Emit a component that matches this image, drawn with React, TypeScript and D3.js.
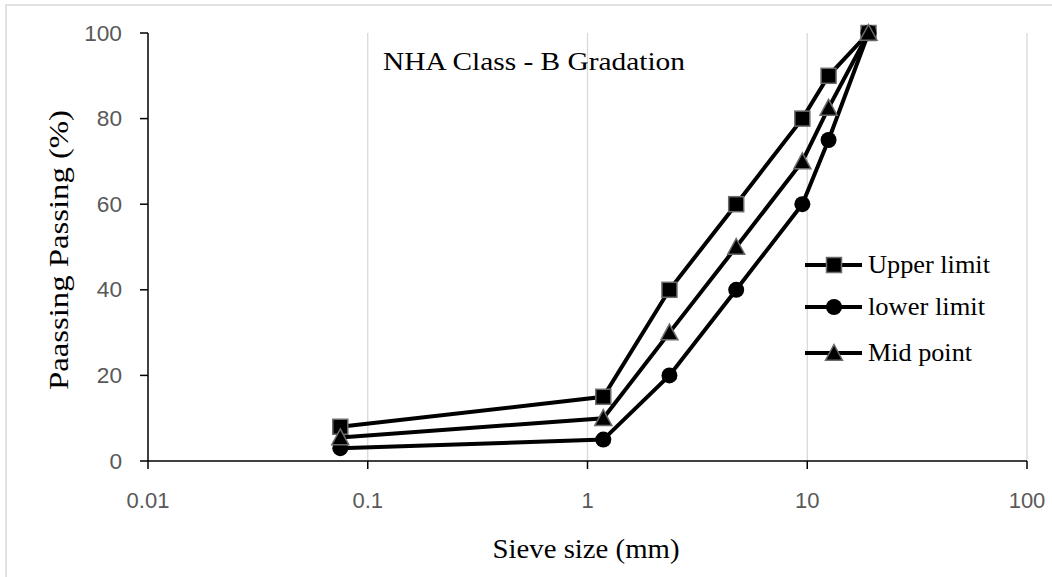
import React from "react";
import * as d3 from "d3";

const sieveSizes = [0.075, 1.18, 2.36, 4.75, 9.5, 12.5, 19];
const upperLimit = [8, 15, 40, 60, 80, 90, 100];
const lowerLimit = [3, 5, 20, 40, 60, 75, 100];
const midPoint = [5.5, 10, 30, 50, 70, 82.5, 100];
const xTicks = [0.01, 0.1, 1, 10, 100];
const xTickLabels = ["0.01", "0.1", "1", "10", "100"];
const yTicks = [0, 20, 40, 60, 80, 100];
const seriesNames = ["Upper limit", "lower limit", "Mid point"];
const seriesShapes = ["square", "circle", "triangle"];

const W = 1052;
const H = 577;
const M = { left: 148, right: 1027, top: 33, bottom: 461 };

function Marker({ shape, x, y }: { shape: string; x: number; y: number }) {
  if (shape === "square") {
    return <rect x={x - 7.5} y={y - 7.5} width={15} height={15} fill="#000" stroke="#6b6b6b" strokeWidth={1.5} />;
  }
  if (shape === "circle") {
    return <circle cx={x} cy={y} r={8} fill="#000" />;
  }
  const s = 8.5;
  return (
    <path
      d={`M${x},${y - s}L${x + s},${y + s * 0.85}L${x - s},${y + s * 0.85}Z`}
      fill="#000"
      stroke="#6b6b6b"
      strokeWidth={1.5}
    />
  );
}

export default function App() {
  const x = d3.scaleLog().domain([0.01, 100]).range([M.left, M.right]);
  const y = d3.scaleLinear().domain([0, 100]).range([M.bottom, M.top]);
  const line = d3
    .line<[number, number]>()
    .x((d) => x(d[0]))
    .y((d) => y(d[1]));
  const series = [upperLimit, lowerLimit, midPoint];
  const legendY = [265, 307, 353];

  return (
    <svg width={W} height={H} style={{ position: "absolute", left: 0, top: 0 }}>
      <rect x={0} y={0} width={W} height={H} fill="#fff" />
      <rect x={6} y={5} width={W + 10} height={H + 10} fill="none" stroke="#d9d9d9" strokeWidth={1.5} />
      {xTicks.slice(1).map((t) => (
        <line key={t} x1={x(t)} x2={x(t)} y1={M.top} y2={M.bottom} stroke="#d9d9d9" strokeWidth={1.3} />
      ))}
      <line x1={M.left} x2={M.left} y1={M.top} y2={M.bottom} stroke="#000" strokeWidth={1.5} />
      <line x1={M.left} x2={M.right} y1={M.bottom} y2={M.bottom} stroke="#000" strokeWidth={1.5} />
      {yTicks.map((t) => (
        <g key={t}>
          <line x1={M.left - 8} x2={M.left} y1={y(t)} y2={y(t)} stroke="#000" strokeWidth={1.5} />
          <text
            x={122}
            y={y(t)}
            dy="0.35em"
            textAnchor="end"
            fontFamily="Liberation Sans, Arial, sans-serif"
            fontSize={22}
            fill="#595959"
            transform={`translate(122,0) scale(1.03,1) translate(-122,0)`}
          >
            {t}
          </text>
        </g>
      ))}
      {xTicks.map((t, i) => (
        <g key={t}>
          <line x1={x(t)} x2={x(t)} y1={M.bottom} y2={M.bottom + 8} stroke="#000" strokeWidth={1.5} />
          <text
            x={x(t)}
            y={500}
            dy="0.35em"
            textAnchor="middle"
            fontFamily="Liberation Sans, Arial, sans-serif"
            fontSize={22}
            fill="#595959"
          >
            {xTickLabels[i]}
          </text>
        </g>
      ))}
      {series.map((vals, si) => {
        const pts: [number, number][] = sieveSizes.map((s, i) => [s, vals[i]]);
        return (
          <g key={si}>
            <path d={line(pts) || ""} fill="none" stroke="#000" strokeWidth={4} />
            {pts.map((p, i) => (
              <Marker key={i} shape={seriesShapes[si]} x={x(p[0])} y={y(p[1])} />
            ))}
          </g>
        );
      })}
      <text
        x={534}
        y={70}
        textAnchor="middle"
        fontFamily="Liberation Serif, Times New Roman, serif"
        fontSize={25}
        fill="#000"
        textLength={302}
        lengthAdjust="spacingAndGlyphs"
      >
        NHA Class - B Gradation
      </text>
      {seriesNames.map((n, i) => (
        <g key={n}>
          <line x1={805} x2={862} y1={legendY[i]} y2={legendY[i]} stroke="#000" strokeWidth={4} />
          <Marker shape={seriesShapes[i]} x={834} y={legendY[i]} />
          <text
            x={868}
            y={legendY[i]}
            dy="0.33em"
            fontFamily="Liberation Serif, Times New Roman, serif"
            fontSize={25}
            fill="#000"
            textLength={[122, 117, 104][i]}
            lengthAdjust="spacingAndGlyphs"
          >
            {n}
          </text>
        </g>
      ))}
      <text
        x={586}
        y={558}
        textAnchor="middle"
        fontFamily="Liberation Serif, Times New Roman, serif"
        fontSize={27}
        fill="#000"
        textLength={187}
        lengthAdjust="spacingAndGlyphs"
      >
        Sieve size (mm)
      </text>
      <text
        transform={`translate(68,250) rotate(-90)`}
        textAnchor="middle"
        fontFamily="Liberation Serif, Times New Roman, serif"
        fontSize={27}
        fill="#000"
        textLength={280}
        lengthAdjust="spacingAndGlyphs"
      >
        Paassing Passing (%)
      </text>
    </svg>
  );
}
